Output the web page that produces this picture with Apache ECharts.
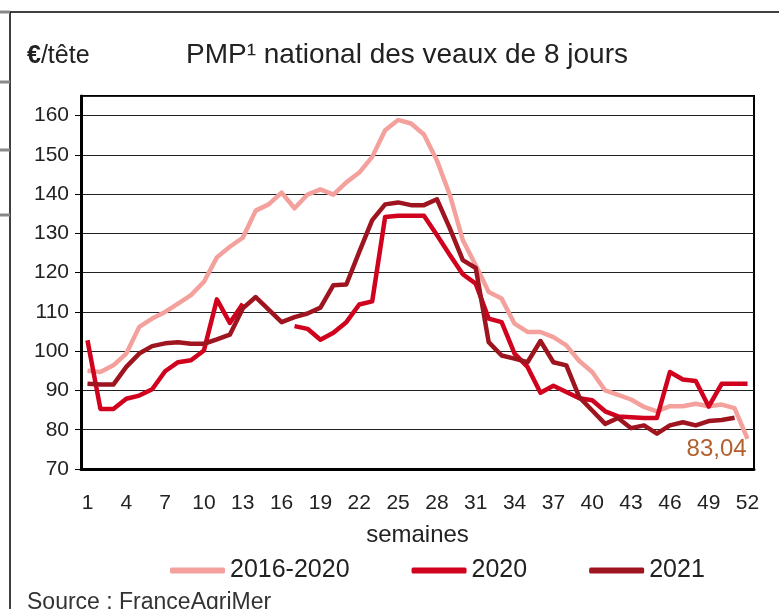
<!DOCTYPE html>
<html>
<head>
<meta charset="utf-8">
<script src="https://cdn.jsdelivr.net/npm/echarts@6/dist/echarts.min.js"></script>
<style>
  html, body { margin: 0; padding: 0; background: #fff; }
  #chart { width: 779px; height: 609px; }
</style>
</head>
<body>
<div id="chart"></div>
<script>
// semaines 1..52
var weeks = [];
for (var w = 1; w <= 52; w++) weeks.push(String(w));

var moy2016_2020 = [95.0, 94.7, 96.4, 99.4, 106.2, 108.3, 110.0, 112.1, 114.3, 117.7,
  123.9, 126.6, 128.9, 135.8, 137.4, 140.4, 136.4, 139.9, 141.2, 139.9,
  143.0, 145.5, 149.5, 156.3, 158.9, 158.0, 155.2, 148.6, 139.8, 128.3,
  121.9, 115.1, 113.4, 107.0, 104.9, 104.9, 103.6, 101.5, 97.5, 94.7,
  90.0, 88.9, 87.7, 85.8, 84.7, 86.0, 86.0, 86.6, 86.0, 86.4, 85.5, 77.7];

var y2020 = [102.8, 85.3, 85.3, 87.9, 88.7, 90.3, 94.9, 97.2, 97.7, 100.2,
  113.2, 107.2, 112.1, null, null, null, 106.4, 105.7, 102.9, 104.7,
  107.4, 111.9, 112.7, 134.2, 134.5, 134.5, 134.5, 129.6, 124.5, 119.6,
  117.2, 108.3, 107.4, 99.4, 96.0, 89.4, 91.2, 89.6, 88.0, 87.5,
  84.7, 83.4, 83.2, 83.0, 83.0, 94.7, 92.8, 92.4, 85.9, 91.7, 91.7, 91.7];

var y2021 = [91.7, 91.5, 91.5, 96.0, 99.4, 101.3, 102.0, 102.3, 101.9, 101.9,
  103.0, 104.2, 110.9, 113.8, 110.6, 107.4, 108.7, 109.6, 111.1, 116.8,
  117.0, 125.3, 133.4, 137.4, 137.9, 137.2, 137.2, 138.7, 131.3, 123.2,
  121.2, 102.3, 98.9, 98.1, 97.2, 102.6, 97.2, 96.4, 88.3, 84.9,
  81.5, 83.0, 80.4, 81.1, 79.0, 81.1, 81.9, 81.1, 82.2, 82.5, 83.04, null];

var FONT = "'Liberation Sans', Arial, sans-serif";

// derniere valeur 2021 avec son etiquette
var data2021 = y2021.map(function (v, i) {
  if (i === 50) {
    return {
      value: v,
      label: {
        show: true, position: 'bottom', distance: 20, offset: [-18, 0],
        formatter: function (p) { return String(p.value).replace('.', ','); },
        color: '#b3602f', fontSize: 24, fontFamily: FONT
      }
    };
  }
  return v;
});

var myChart = echarts.init(document.getElementById('chart'));

var option = {
  backgroundColor: '#fff',
  animation: false,
  title: [
    {
      text: '{b|€}/tête',
      left: 22, top: 39,
      textStyle: {
        fontFamily: FONT, fontSize: 25, fontWeight: 'normal', color: '#222',
        rich: { b: { fontFamily: FONT, fontSize: 25, fontWeight: 'bold', color: '#222' } }
      }
    },
    {
      text: 'PMP¹ national des veaux de 8 jours',
      left: 402, top: 36, textAlign: 'center',
      textStyle: { fontFamily: FONT, fontSize: 28, fontWeight: 'normal', color: '#222' }
    },
    {
      text: 'Source : FranceAgriMer',
      left: 22, top: 586,
      textStyle: { fontFamily: FONT, fontSize: 23, fontWeight: 'normal', color: '#333' }
    }
  ],
  graphic: [
    { type: 'line', shape: { x1: 10, y1: 12, x2: 779, y2: 12 }, style: { stroke: '#000', lineWidth: 1.5 } },
    { type: 'line', shape: { x1: 10, y1: 12, x2: 10, y2: 609 }, style: { stroke: '#000', lineWidth: 1.5 } },
    { type: 'line', shape: { x1: 0, y1: 12, x2: 10, y2: 12 }, style: { stroke: '#888', lineWidth: 3 } },
    { type: 'line', shape: { x1: 0, y1: 82, x2: 10, y2: 82 }, style: { stroke: '#888', lineWidth: 3 } },
    { type: 'line', shape: { x1: 0, y1: 150, x2: 10, y2: 150 }, style: { stroke: '#888', lineWidth: 3 } },
    { type: 'line', shape: { x1: 0, y1: 215, x2: 10, y2: 215 }, style: { stroke: '#888', lineWidth: 3 } }
  ],
  legend: {
    top: 553, left: 165,
    itemWidth: 55, itemHeight: 6, itemGap: 62,
    icon: 'roundRect',
    textStyle: { fontFamily: FONT, fontSize: 25, color: '#222' },
    data: ['2016-2020', '2020', '2021']
  },
  grid: {
    left: 81, right: 25, top: 96, bottom: 140,
    show: true, borderColor: '#000', borderWidth: 2
  },
  xAxis: {
    type: 'category',
    data: weeks,
    boundaryGap: true,
    name: 'semaines',
    nameLocation: 'middle',
    nameGap: 54,
    nameTextStyle: { fontFamily: FONT, fontSize: 24, color: '#222' },
    axisLine: { lineStyle: { color: '#000', width: 3 } },
    axisTick: { interval: 0, length: 7, lineStyle: { color: '#000', width: 1 } },
    axisLabel: { interval: 2, margin: 24, fontFamily: FONT, fontSize: 21, color: '#222' }
  },
  yAxis: {
    type: 'value',
    min: 70, max: 165, interval: 10,
    axisLine: { show: true, lineStyle: { color: '#000', width: 3 } },
    axisTick: { show: true, length: 6, lineStyle: { color: '#000' } },
    axisLabel: { showMaxLabel: false, margin: 12, fontFamily: FONT, fontSize: 21, color: '#222' },
    splitLine: { lineStyle: { color: '#222', width: 1.2 } }
  },
  series: [
    {
      name: '2016-2020', type: 'line', data: moy2016_2020,
      showSymbol: false,
      lineStyle: { color: '#f4a19d', width: 4.5, join: 'round' },
      itemStyle: { color: '#f4a19d' }
    },
    {
      name: '2020', type: 'line', data: y2020, connectNulls: false,
      showSymbol: false,
      lineStyle: { color: '#d0021e', width: 4.5, join: 'round' },
      itemStyle: { color: '#d0021e' }
    },
    {
      name: '2021', type: 'line', data: data2021,
      showSymbol: true, showAllSymbol: true, symbol: 'circle', symbolSize: 0,
      lineStyle: { color: '#9e1520', width: 4.5, join: 'round' },
      itemStyle: { color: '#9e1520' }
    }
  ]
};

myChart.setOption(option);
</script>
</body>
</html>
